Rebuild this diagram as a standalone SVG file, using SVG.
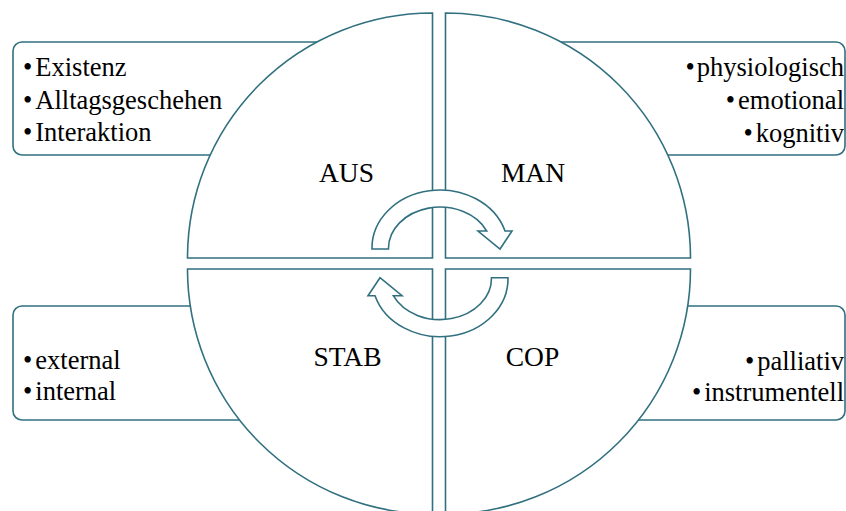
<svg xmlns="http://www.w3.org/2000/svg" xmlns:xlink="http://www.w3.org/1999/xlink" width="846" height="511" viewBox="0 0 846 511">
<style>
.ln{fill:#fff;stroke:#31707f;stroke-width:1.6;stroke-linejoin:miter}
.lb{font-family:"Liberation Serif","Times New Roman",serif;font-size:27.5px;fill:#000;text-anchor:middle}
.tx{font-family:"Liberation Serif","Times New Roman",serif;font-size:26.5px;fill:#000}
.r{text-anchor:end}
</style>
<defs>
<path id="arr" class="ln" d="M372,249 A68 58 0 0 1 505,231 L512,231 L500,249 L478,231 L486.7,231 A51.5 41.3 0 0 0 388.5,249 Z"/>
</defs>
<rect x="0" y="0" width="846" height="511" fill="#fff"/>
<g id="aus">
<rect class="ln" x="13" y="42" width="390" height="113" rx="9"/>
<path class="ln" d="M432.5,258 L187.5,258 A245 245 0 0 1 432.5,13 Z"/>
<text class="lb" x="346.5" y="181.5">AUS</text>
<text class="tx" x="23" y="76"><tspan>•</tspan><tspan dx="3">Existenz</tspan></text>
<text class="tx" x="23" y="108.5"><tspan>•</tspan><tspan dx="3">Alltagsgeschehen</tspan></text>
<text class="tx" x="23" y="141"><tspan>•</tspan><tspan dx="3">Interaktion</tspan></text>
</g>
<g id="man">
<rect class="ln" x="475" y="42" width="370" height="113" rx="9"/>
<path class="ln" d="M445.5,258 L445.5,13 A245 245 0 0 1 690.5,258 Z"/>
<text class="lb" x="533" y="181.5">MAN</text>
<text class="tx r" x="844" y="75.5"><tspan>•</tspan><tspan dx="2">physiologisch</tspan></text>
<text class="tx r" x="844" y="108.5"><tspan>•</tspan><tspan dx="3">emotional</tspan></text>
<text class="tx r" x="844" y="141.5"><tspan>•</tspan><tspan dx="3">kognitiv</tspan></text>
</g>
<g id="stab">
<rect class="ln" x="13" y="306" width="390" height="114" rx="9"/>
<path class="ln" d="M432.5,269 L187.5,269 A245 245 0 0 0 432.5,514 Z"/>
<text class="lb" x="347.5" y="366">STAB</text>
<text class="tx" x="23" y="368.5"><tspan>•</tspan><tspan dx="3">external</tspan></text>
<text class="tx" x="23" y="400"><tspan>•</tspan><tspan dx="3">internal</tspan></text>
</g>
<g id="cop">
<rect class="ln" x="475" y="306" width="370" height="114" rx="9"/>
<path class="ln" d="M445.5,269 L690.5,269 A245 245 0 0 1 445.5,514 Z"/>
<text class="lb" x="532.5" y="366">COP</text>
<text class="tx r" x="844" y="369.5"><tspan>•</tspan><tspan dx="3">palliativ</tspan></text>
<text class="tx r" x="844" y="400.5"><tspan>•</tspan><tspan dx="3">instrumentell</tspan></text>
</g>
<g id="connectors">
<use xlink:href="#arr"/>
<use xlink:href="#arr" transform="rotate(180 440 263.35)"/>
</g>
</svg>
